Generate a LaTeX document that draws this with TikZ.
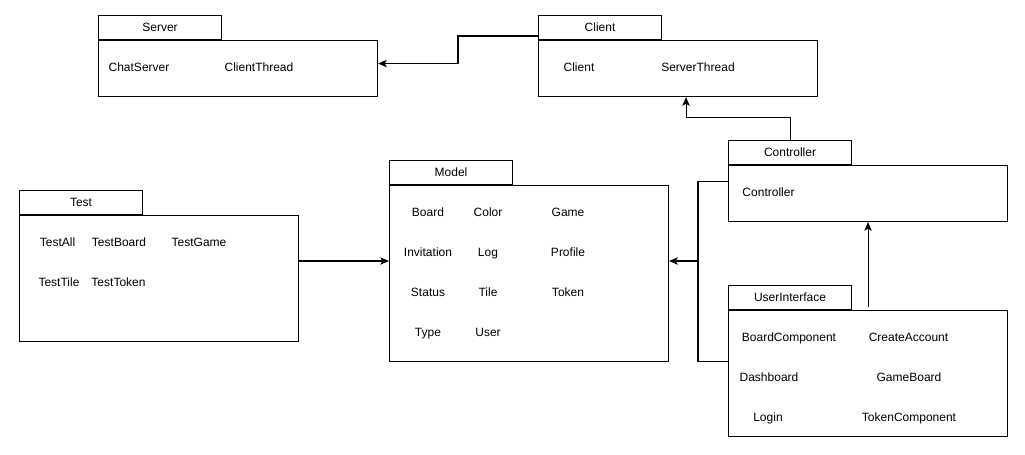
\documentclass[tikz,border=0pt]{standalone}
\usepackage{fontspec}
\setmainfont{Liberation Sans}
\usetikzlibrary{arrows.meta}

\begin{document}
\begin{tikzpicture}[x=0.75pt,y=-0.75pt,
    every node/.style={font=\fontsize{9pt}{11pt}\selectfont},
    pkgbody/.style={draw, line width=0.8pt, anchor=north west, minimum width=209.25pt, inner sep=0pt},
    pkgtab/.style={draw, line width=0.8pt, anchor=south west, minimum width=92.25pt, minimum height=18pt, inner sep=0pt},
    cls/.style={anchor=base, inner sep=0pt},
    link/.style={line width=0.8pt},
    arr/.style={link, -{Stealth[length=6.5pt,width=5.5pt,inset=1.5pt]}}]
  \useasboundingbox (0,0) rectangle (1025,454);

  % packages
  \node[pkgbody, minimum height=42pt] (server) at (98,40) {};
  \node[pkgtab] (servertab) at (server.north west) {Server};
  \node[pkgbody, minimum height=42pt] (client) at (538,40) {};
  \node[pkgtab] (clienttab) at (client.north west) {Client};
  \node[pkgbody, minimum height=42pt] (controller) at (728,165) {};
  \node[pkgtab] (controllertab) at (controller.north west) {Controller};
  \node[pkgbody, minimum height=94.5pt] (test) at (19,215) {};
  \node[pkgtab] (testtab) at (test.north west) {Test};
  \node[pkgbody, minimum height=132pt] (model) at (389,185) {};
  \node[pkgtab] (modeltab) at (model.north west) {Model};
  \node[pkgbody, minimum height=94.5pt] (ui) at (728,310) {};
  \node[pkgtab] (uitab) at (ui.north west) {UserInterface};

  % classes
  \foreach \x/\y/\n in {139/71/ChatServer, 259/71/ClientThread,
                        579/71/Client, 698/71/ServerThread,
                        768.5/196/Controller,
                        789/341/BoardComponent, 908.5/341/CreateAccount,
                        769/381/Dashboard, 909/381/GameBoard,
                        768/421/Login, 909/421/TokenComponent,
                        57.5/246/TestAll, 119/246/TestBoard, 199/246/TestGame,
                        59/286/TestTile, 118.5/286/TestToken}
     \node[cls] (c\n) at (\x,\y) {\n};
  \foreach \y/\a/\b/\c in {216/Board/Color/Game, 256/Invitation/Log/Profile,
                           296/Status/Tile/Token}
  {
    \node[cls] (c\a) at (428,\y) {\a};
    \node[cls] (c\b) at (488,\y) {\b};
    \node[cls] (c\c) at (568,\y) {\c};
  }
  \node[cls] (cType) at (428,336) {Type};
  \node[cls] (cUser) at (488,336) {User};

  % dependencies
  \coordinate (bus) at (698,261);
  \draw[arr] ([yshift=3pt]client.north west) -- ++(-80,0) |- ([yshift=3.75pt]server.east);
  \draw[arr] (controllertab.north) -- ++(0,-22) -| ([xshift=6pt]client.south);
  \draw[arr] ([yshift=2.5pt]ui.north -| controller.south) -- (controller.south);
  \draw[link] ([yshift=9pt]controller.west) -| (bus) |- ([yshift=9pt]ui.west);
  \draw[arr] (bus) -- (bus -| model.east);
  \draw[arr] (test.east |- bus) -- (model.west |- bus);
\end{tikzpicture}
\end{document}
